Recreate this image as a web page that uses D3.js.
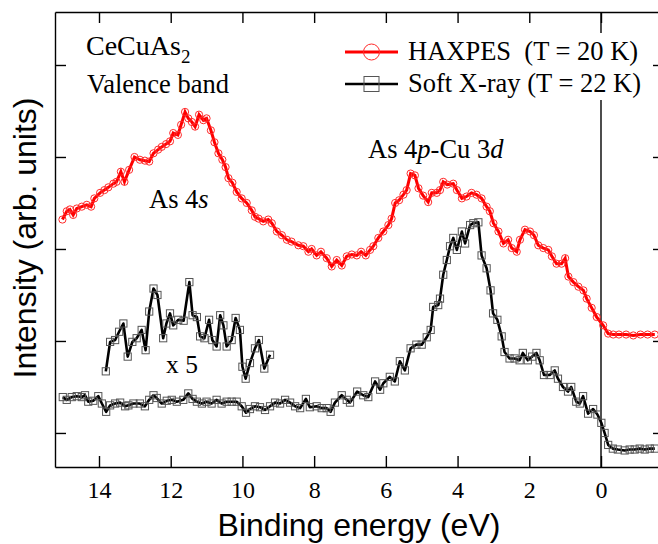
<!DOCTYPE html>
<html>
<head>
<meta charset="utf-8">
<script src="https://cdn.jsdelivr.net/npm/d3@7"></script>
<style>
  html, body { margin: 0; padding: 0; background: #fff; }
  svg text { font-family: "Liberation Serif", "Times New Roman", serif; fill: #000; }
  .sans { font-family: "Liberation Sans", Arial, sans-serif !important; }
</style>
</head>
<body>
<svg id="chart" width="658" height="544"></svg>
<script>
'use strict';

// HAXPES (T = 20 K), binding energy (eV) and intensity (arb. units)
var haxpesE = [15.02, 14.90, 14.81, 14.72, 14.62, 14.48, 14.34, 14.22, 14.13, 13.97, 13.85, 13.74, 13.60, 13.51,
  13.39, 13.29, 13.16, 13.01, 12.86, 12.72, 12.60, 12.48, 12.35, 12.25, 12.13, 12.02, 11.93, 11.80, 11.71, 11.60,
  11.51, 11.41, 11.32, 11.21, 11.09, 11.00, 10.88, 10.78, 10.67, 10.56, 10.47, 10.39, 10.28, 10.16, 10.02, 9.88,
  9.74, 9.65, 9.55, 9.42, 9.28, 9.18, 9.04, 8.90, 8.76, 8.63, 8.44, 8.30, 8.16, 8.07, 7.93, 7.81, 7.65, 7.51, 7.37,
  7.23, 7.09, 6.95, 6.81, 6.69, 6.56, 6.44, 6.35, 6.21, 6.07, 5.93, 5.84, 5.74, 5.63, 5.51, 5.42, 5.31, 5.19, 5.09,
  4.96, 4.82, 4.72, 4.58, 4.49, 4.40, 4.29, 4.12, 4.02, 3.88, 3.75, 3.61, 3.47, 3.33, 3.19, 3.10, 3.00, 2.86, 2.72,
  2.59, 2.49, 2.35, 2.26, 2.12, 1.98, 1.87, 1.75, 1.61, 1.47, 1.37, 1.24, 1.10, 1.00, 0.91, 0.77, 0.63, 0.49, 0.40,
  0.26, 0.12, -0.06, -0.20, -0.34, -0.50, -0.70, -0.90, -1.10, -1.30, -1.50];
var haxpesI = [3.32, 3.41, 3.43, 3.37, 3.44, 3.46, 3.48, 3.46, 3.55, 3.61, 3.64, 3.67, 3.71, 3.73,
  3.84, 3.73, 3.86, 4.00, 3.97, 3.96, 3.95, 4.04, 4.08, 4.11, 4.14, 4.17, 4.26, 4.24, 4.35, 4.49,
  4.42, 4.38, 4.33, 4.46, 4.40, 4.42, 4.29, 4.16, 4.04, 3.97, 3.89, 3.77, 3.72, 3.62, 3.55, 3.50,
  3.42, 3.35, 3.33, 3.30, 3.32, 3.28, 3.19, 3.15, 3.10, 3.08, 3.04, 3.03, 2.97, 3.00, 2.93, 2.97, 2.90, 2.81, 2.88,
  2.82, 2.92, 2.94, 2.93, 2.97, 2.93, 2.99, 3.03, 3.12, 3.19, 3.26, 3.33, 3.50, 3.53, 3.59, 3.64, 3.82, 3.80, 3.66,
  3.58, 3.51, 3.61, 3.61, 3.64, 3.73, 3.70, 3.71, 3.64, 3.55, 3.57, 3.61, 3.59, 3.55, 3.46, 3.41, 3.28, 3.19, 3.06,
  3.10, 3.01, 2.97, 3.10, 3.21, 3.19, 3.15, 3.04, 3.01, 2.99, 2.92, 2.84, 2.84, 2.90, 2.70, 2.64, 2.59, 2.55, 2.46,
  2.36, 2.26, 2.17, 2.08, 2.07, 2.07, 2.07, 2.06, 2.07, 2.07, 2.07];

// Soft X-ray (T = 22 K)
var softE = [15.01, 14.90, 14.76, 14.62, 14.48, 14.39, 14.30, 14.16, 14.02, 13.92, 13.80, 13.69, 13.55, 13.41,
  13.27, 13.18, 13.04, 12.86, 12.72, 12.60, 12.48, 12.39, 12.25, 12.11, 11.97, 11.83, 11.65, 11.51, 11.39, 11.27,
  11.13, 11.00, 10.86, 10.72, 10.58, 10.44, 10.30, 10.16, 10.02, 9.90, 9.79, 9.65, 9.51, 9.37, 9.23, 9.09, 8.95,
  8.81, 8.67, 8.53, 8.39, 8.23, 8.12, 7.93, 7.79, 7.65, 7.54, 7.42, 7.23, 7.09, 7.00, 6.80, 6.63, 6.49, 6.30, 6.16,
  6.07, 5.89, 5.75, 5.61, 5.47, 5.31, 5.15, 5.00, 4.86, 4.75, 4.68, 4.54, 4.49, 4.40, 4.30, 4.21, 4.12, 4.02, 3.88,
  3.79, 3.65, 3.56, 3.42, 3.33, 3.19, 3.08, 3.01, 2.89, 2.77, 2.69, 2.55, 2.41, 2.27, 2.18, 2.04, 1.92, 1.80, 1.71,
  1.59, 1.43, 1.29, 1.20, 1.06, 0.92, 0.83, 0.69, 0.59, 0.50, 0.36, 0.22, 0.10, -0.01, -0.10, -0.20, -0.33, -0.47,
  -0.66, -0.80, -0.94, -1.08, -1.22, -1.36, -1.50];
var softI = [1.39, 1.36, 1.39, 1.40, 1.39, 1.41, 1.34, 1.35, 1.40, 1.32, 1.23, 1.30, 1.32, 1.33,
  1.29, 1.30, 1.32, 1.32, 1.29, 1.36, 1.41, 1.38, 1.32, 1.35, 1.36, 1.34, 1.36, 1.43, 1.37, 1.34,
  1.32, 1.34, 1.32, 1.36, 1.32, 1.34, 1.34, 1.34, 1.29, 1.22, 1.26, 1.29, 1.28, 1.25, 1.29, 1.33, 1.32,
  1.36, 1.33, 1.29, 1.27, 1.37, 1.28, 1.29, 1.27, 1.27, 1.23, 1.33, 1.41, 1.36, 1.33, 1.45, 1.41, 1.39, 1.56, 1.47,
  1.54, 1.61, 1.56, 1.78, 1.68, 1.92, 1.96, 1.96, 2.04, 2.12, 2.37, 2.39, 2.46, 2.72, 2.88, 3.03, 3.12, 2.99, 3.19,
  3.06, 3.26, 3.28, 3.29, 2.93, 2.79, 2.55, 2.30, 2.23, 2.05, 1.88, 1.81, 1.81, 1.79, 1.87, 1.79, 1.83, 1.87, 1.79,
  1.63, 1.63, 1.68, 1.59, 1.50, 1.45, 1.50, 1.34, 1.32, 1.40, 1.21, 1.26, 1.20, 1.11, 1.00, 0.87, 0.83, 0.82,
  0.81, 0.82, 0.82, 0.83, 0.82, 0.83, 0.83];

// Soft X-ray As 4s region, magnified x 5
var insetE = [13.81, 13.69, 13.55, 13.44, 13.32, 13.20, 13.07, 12.95, 12.81, 12.70, 12.60, 12.48, 12.37, 12.21,
  12.12, 12.02, 11.93, 11.79, 11.64, 11.48, 11.39, 11.27, 11.18, 11.06, 10.93, 10.84, 10.72, 10.62, 10.53, 10.44,
  10.30, 10.19, 10.07, 10.00, 9.91, 9.79, 9.65, 9.54, 9.39, 9.23];
var insetI = [1.67, 1.99, 2.01, 2.10, 2.19, 1.83, 1.99, 2.03, 2.12, 1.90, 2.32, 2.57, 2.50, 2.03,
  2.19, 2.30, 2.17, 2.23, 2.22, 2.64, 2.28, 2.26, 2.05, 2.03, 2.23, 2.01, 1.94, 2.28, 2.17, 1.94,
  2.01, 2.25, 2.12, 1.72, 1.59, 1.76, 1.92, 2.01, 1.70, 1.85];

var xTicks = [14, 12, 10, 8, 6, 4, 2, 0];
var yTicks = [1, 2, 3, 4, 5];

var svg = d3.select('#chart');

var x = d3.scaleLinear().domain([15.227, -1.757]).range([55, 664]);
var y = d3.scaleLinear().domain([0.63, 5.576]).range([467, 12]);

function zipData(es, is) {
  return es.map(function(e, i) { return { e: e, v: is[i] }; });
}
var haxpes = zipData(haxpesE, haxpesI);
var soft = zipData(softE, softI);
var inset = zipData(insetE, insetI);

// axes (ticks point inward, frame from the domain paths)
function styleAxis(g) {
  g.selectAll('path, line').attr('stroke', '#000').attr('stroke-width', 1.4);
  g.selectAll('text').style('font-size', '24px').attr('fill', '#000');
}
svg.append('g').attr('transform', 'translate(0,467)')
  .call(d3.axisBottom(x).tickValues(xTicks).tickSizeInner(-11).tickSizeOuter(0).tickPadding(14))
  .call(styleAxis);
svg.append('g').attr('transform', 'translate(0,12)')
  .call(d3.axisTop(x).tickValues(xTicks).tickSizeInner(-11).tickSizeOuter(0).tickFormat(''))
  .call(styleAxis);
svg.append('g').attr('transform', 'translate(55,0)')
  .call(d3.axisLeft(y).tickValues(yTicks).tickSizeInner(-11).tickSizeOuter(0).tickFormat(''))
  .call(styleAxis);
svg.append('g').attr('transform', 'translate(664,0)')
  .call(d3.axisRight(y).tickValues(yTicks).tickSizeInner(-11).tickSizeOuter(0).tickFormat(''))
  .call(styleAxis);

// Fermi level
svg.append('line')
  .attr('x1', x(0)).attr('x2', x(0)).attr('y1', 12).attr('y2', 467)
  .attr('stroke', '#000').attr('stroke-width', 1.4);

var line = d3.line().x(function(d) { return x(d.e); }).y(function(d) { return y(d.v); });

// HAXPES
svg.append('path').datum(haxpes)
  .attr('d', line).attr('fill', 'none').attr('stroke', '#ff0000').attr('stroke-width', 3);
svg.append('g').selectAll('circle').data(haxpes).enter().append('circle')
  .attr('cx', function(d) { return x(d.e); })
  .attr('cy', function(d) { return y(d.v); })
  .attr('r', 3.6)
  .attr('fill', 'none').attr('stroke', '#ff2a2a').attr('stroke-width', 1);

// soft x-ray + magnified part
function drawSquares(data) {
  svg.append('g').selectAll('rect').data(data).enter().append('rect')
    .attr('x', function(d) { return x(d.e) - 3.6; })
    .attr('y', function(d) { return y(d.v) - 3.6; })
    .attr('width', 7.2).attr('height', 7.2)
    .attr('fill', 'none').attr('stroke', '#555').attr('stroke-width', 1);
}
[soft, inset].forEach(function(data) {
  svg.append('path').datum(data)
    .attr('d', line).attr('fill', 'none').attr('stroke', '#000').attr('stroke-width', 2.6)
    .attr('stroke-linejoin', 'round');
  drawSquares(data);
});

// legend
var legend = svg.append('g');
legend.append('rect').attr('x', 338).attr('y', 33).attr('width', 314).attr('height', 67).attr('fill', '#fff');
legend.append('line').attr('x1', 345).attr('x2', 398).attr('y1', 52).attr('y2', 52)
  .attr('stroke', '#ff0000').attr('stroke-width', 3);
legend.append('circle').attr('cx', 371.5).attr('cy', 52).attr('r', 8)
  .attr('fill', 'none').attr('stroke', '#ff2a2a').attr('stroke-width', 1);
legend.append('line').attr('x1', 345).attr('x2', 398).attr('y1', 84).attr('y2', 84)
  .attr('stroke', '#000').attr('stroke-width', 2.6);
legend.append('rect').attr('x', 364).attr('y', 76.5).attr('width', 15).attr('height', 15)
  .attr('fill', 'none').attr('stroke', '#555').attr('stroke-width', 1);
legend.append('text').attr('x', 408).attr('y', 60).style('font-size', '26.5px').style('white-space', 'pre')
  .text('HAXPES  (T = 20 K)');
legend.append('text').attr('x', 408).attr('y', 92).style('font-size', '26.5px').style('white-space', 'pre')
  .text('Soft X-ray (T = 22 K)');

// labels
var t1 = svg.append('text').attr('x', 86).attr('y', 55).style('font-size', '28px').text('CeCuAs');
t1.append('tspan').attr('dy', 8).style('font-size', '19px').text('2');
svg.append('text').attr('x', 87).attr('y', 93).style('font-size', '26.5px').text('Valence band');

var t2 = svg.append('text').attr('x', 149).attr('y', 208).style('font-size', '26.5px').text('As 4');
t2.append('tspan').style('font-style', 'italic').text('s');

var t3 = svg.append('text').attr('x', 368).attr('y', 158).style('font-size', '26.5px').text('As 4');
t3.append('tspan').style('font-style', 'italic').text('p');
t3.append('tspan').text('-Cu 3');
t3.append('tspan').style('font-style', 'italic').text('d');

svg.append('text').attr('x', 166).attr('y', 373).style('font-size', '25.5px').text('x 5');

// axis titles
svg.append('text').attr('class', 'sans').attr('x', 359).attr('y', 536)
  .attr('text-anchor', 'middle').style('font-size', '32px').text('Binding energy (eV)');
svg.append('text').attr('class', 'sans')
  .attr('transform', 'translate(36,238) rotate(-90)')
  .attr('text-anchor', 'middle').style('font-size', '32px').text('Intensity (arb. units)');
</script>
</body>
</html>
